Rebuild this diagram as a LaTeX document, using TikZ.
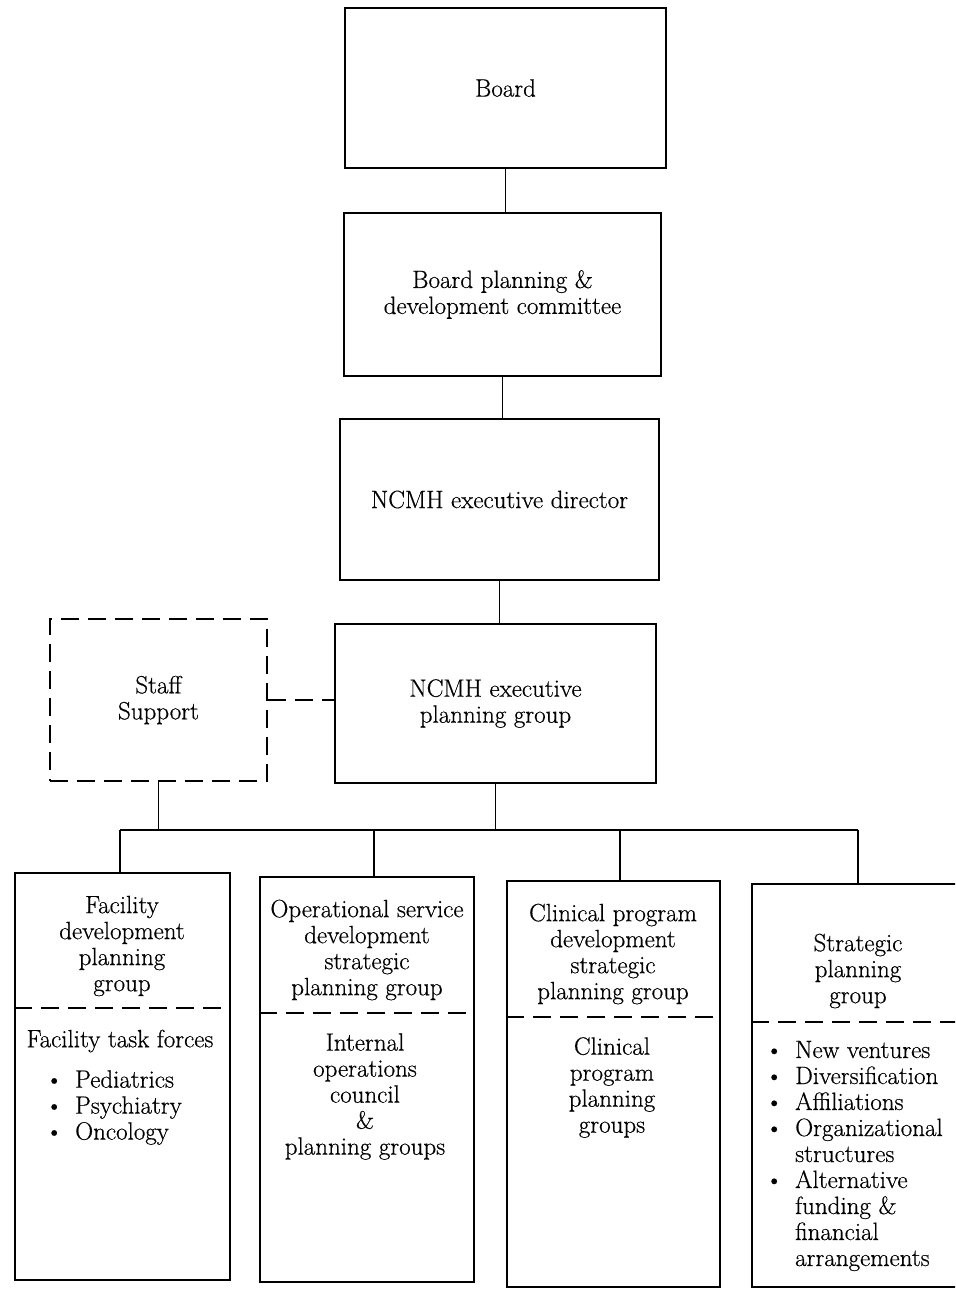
\documentclass[tikz,border=0pt]{standalone}
\usepackage{fontspec}
\newfontfamily\chartfont{Latin Modern Roman}[FakeBold=0.5]
\newcommand{\bul}{\leavevmode\llap{\textbullet\hspace{12pt}}}
\begin{document}
\begin{tikzpicture}[x=1pt,y=-1pt,
  every node/.style={font=\chartfont\fontsize{25}{26}\selectfont, inner sep=0pt},
  box/.style={draw, line width=1.2pt, align=center},
  dashbox/.style={box, dash pattern=on 18pt off 9pt},
  link/.style={line width=1.2pt},
  dashlink/.style={link, dash pattern=on 18pt off 9pt},
  label/.style={align=center},
  list/.style={align=left, anchor=west},
]
\useasboundingbox (0,0) rectangle (955,1289);
\clip (0,0) rectangle (955,1289);

% upper chain of command
\node[box, minimum width=321pt, minimum height=160pt] (board) at (505.5,88) {Board};
\node[box, minimum width=317pt, minimum height=163pt] (bpdc) at (502.5,294.5)
  {Board planning \&\\development committee};
\node[box, minimum width=319pt, minimum height=161pt] (ned) at (499.5,499.5)
  {NCMH executive director};
\node[box, minimum width=321pt, minimum height=159pt] (nepg) at (495.5,703.5)
  {NCMH executive\\planning group};
\node[dashbox, minimum width=217pt, minimum height=162pt] (staff) at (158.5,700)
  {Staff\\Support};

\draw[link] (board.south) -- (board.south |- bpdc.north);
\draw[link] (bpdc.south) -- (bpdc.south |- ned.north);
\draw[link] (ned.south) -- (ned.south |- nepg.north);
\draw[dashlink] (staff.east) -- (staff.east -| nepg.west);

% the four planning groups
\node[box, minimum width=215pt, minimum height=407pt] (g1) at (122.5,1076.5) {};
\node[box, minimum width=214pt, minimum height=405pt] (g2) at (367,1079.5) {};
\node[box, minimum width=213pt, minimum height=406pt] (g3) at (613.5,1084) {};
\node[box, minimum width=228pt, minimum height=403pt] (g4) at (866,1085.5) {};

% distribution bus
\coordinate (b1) at (120,830);
\coordinate (b2) at (374,830);
\coordinate (b3) at (620,830);
\coordinate (b4) at (858,830);
\draw[link] (b1) -- (b4);
\draw[link] (staff.south) -- (staff.south |- b1);
\draw[link] (nepg.south) -- (nepg.south |- b1);
\draw[link] (b1) -- (b1 |- g1.north);
\draw[link] (b2) -- (b2 |- g2.north);
\draw[link] (b3) -- (b3 |- g3.north);
\draw[link] (b4) -- (b4 |- g4.north);

% dashed dividers between group name and its sub-units
\draw[dashlink] (g1.west |- 0,1008) -- (g1.east |- 0,1008);
\draw[dashlink] (g2.west |- 0,1013) -- (g2.east |- 0,1013);
\draw[dashlink] (g3.west |- 0,1017) -- (g3.east |- 0,1017);
\draw[dashlink] (g4.west |- 0,1022) -- (g4.east |- 0,1022);

% group names
\node[label] (t1) at (122,946) {Facility\\development\\planning\\group};
\node[label] (t2) at (367,950) {Operational service\\development\\strategic\\planning group};
\node[label] (t3) at (613,954) {Clinical program\\development\\strategic\\planning group};
\node[label] (t4) at (858,971) {Strategic\\planning\\group};

% sub-units
\node[label] (u1) at (120,1041) {Facility task forces};
\node[list] (l1) at (75,1107.5)
  {\bul Pediatrics\\
   \bul Psychiatry\\
   \bul Oncology};
\node[label] (u2) at (365,1096.5)
  {Internal\\operations\\council\\\&\\planning groups};
\node[label] (u3) at (612,1087.5)
  {Clinical\\program\\planning\\groups};
\node[list] (l4) at (795,1156)
  {\bul New ventures\\
   \bul Diversification\\
   \bul Affiliations\\
   \bul Organizational\\
   structures\\
   \bul Alternative\\
   funding \&\\
   financial\\
   arrangements};
\end{tikzpicture}
\end{document}
